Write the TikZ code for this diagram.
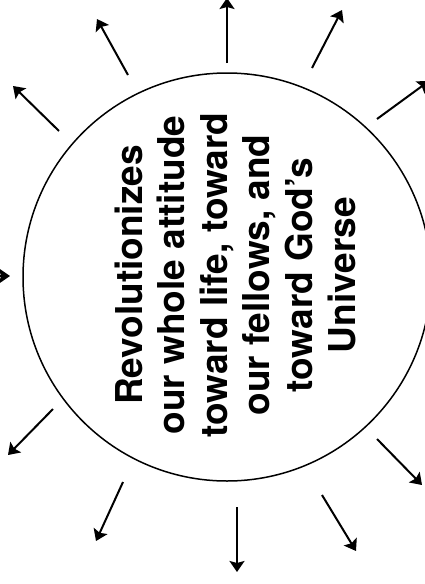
\documentclass[tikz,border=0pt]{standalone}
\usepackage{fontspec}
\setmainfont{TeX Gyre Heros}
\usetikzlibrary{arrows.meta}
\begin{document}
\begin{tikzpicture}[x=1pt,y=-1pt,
  ray/.style={line width=2pt,-{Stealth[length=11pt,width=15pt,inset=2pt]}},
  bigcircle/.style={circle,draw,line width=1.5pt,minimum size=408pt,inner sep=0pt}]
\useasboundingbox (0,0) rectangle (425,584);
\clip (0,0) rectangle (425,584);
\node[bigcircle] (c) at (227,277) {};
\node[rotate=90,inner sep=0pt,align=center,font=\bfseries\fontsize{37}{42.6}\selectfont] (t) at (235,275)
  {Revolutionizes\\our whole attitude\\toward life, toward\\our fellows, and\\toward God’s\\Universe};
% ray start and end points
\coordinate (s1) at (227,63);  \coordinate (e1) at (227,-2);
\coordinate (s2) at (128,75);  \coordinate (e2) at (97,19);
\coordinate (s3) at (59,131);  \coordinate (e3) at (13,86);
\coordinate (s4) at (-60,276); \coordinate (e4) at (10,276);
\coordinate (s5) at (312,68);  \coordinate (e5) at (342,10);
\coordinate (s6) at (377,119); \coordinate (e6) at (429,81);
\coordinate (s7) at (53,409);  \coordinate (e7) at (8,455);
\coordinate (s8) at (123,482); \coordinate (e8) at (96,541);
\coordinate (s9) at (237,507); \coordinate (e9) at (237,572);
\coordinate (s10) at (322,495); \coordinate (e10) at (356,551);
\coordinate (s11) at (377,439); \coordinate (e11) at (422,485);
\foreach \i in {1,...,11} { \draw[ray] (s\i) -- (e\i); }
\end{tikzpicture}
\end{document}
